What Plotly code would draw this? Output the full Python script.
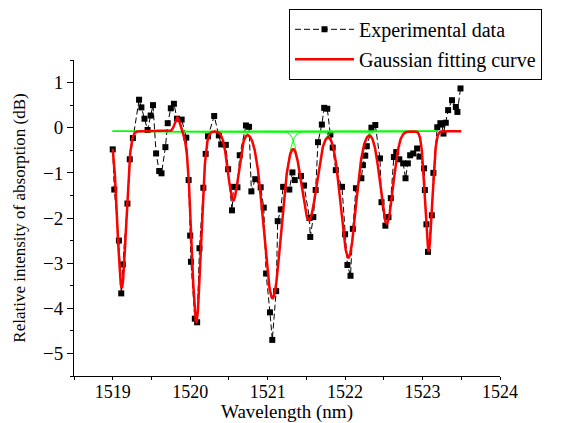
import numpy as np
import plotly.graph_objects as go

# Experimental data (wavelength in nm, relative intensity in dB)
wavelength = [
    1519.00, 1519.02, 1519.08, 1519.11, 1519.13, 1519.19, 1519.22, 1519.26, 1519.34, 1519.37,
    1519.41, 1519.45, 1519.49, 1519.52, 1519.56, 1519.60, 1519.63, 1519.68, 1519.71, 1519.75,
    1519.79, 1519.83, 1519.89, 1519.95, 1519.98, 1520.00, 1520.01, 1520.06, 1520.09, 1520.12,
    1520.17, 1520.20, 1520.23, 1520.31, 1520.37, 1520.40, 1520.46, 1520.49, 1520.54, 1520.56,
    1520.61, 1520.64, 1520.72, 1520.76, 1520.79, 1520.84, 1520.91, 1520.95, 1520.98, 1521.03,
    1521.06, 1521.11, 1521.13, 1521.17, 1521.20, 1521.28, 1521.32, 1521.35, 1521.43, 1521.47,
    1521.54, 1521.55, 1521.59, 1521.62, 1521.65, 1521.70, 1521.73, 1521.77, 1521.81, 1521.84,
    1521.88, 1521.96, 1522.00, 1522.03, 1522.07, 1522.10, 1522.14, 1522.21, 1522.23, 1522.26,
    1522.28, 1522.34, 1522.39, 1522.45, 1522.47, 1522.52, 1522.56, 1522.59, 1522.63, 1522.66,
    1522.70, 1522.75, 1522.78, 1522.81, 1522.84, 1522.88, 1522.93, 1522.96, 1523.02, 1523.03,
    1523.05, 1523.07, 1523.12, 1523.14, 1523.19, 1523.23, 1523.25, 1523.27, 1523.30, 1523.33,
    1523.38, 1523.43, 1523.45, 1523.49,
]
absorption = [
    -0.48, -1.37, -2.50, -3.67, -3.03, -1.68, -0.70, -0.23, 0.62, 0.45,
    0.20, -0.05, 0.27, 0.50, -0.57, -0.96, -1.01, -0.43, 0.10, 0.43,
    0.53, 0.20, 0.18, -0.22, -1.16, -2.39, -2.97, -4.23, -4.31, -2.67,
    -1.33, -0.58, -0.19, 0.26, -0.17, -0.37, -0.38, -0.92, -1.83, -1.31,
    -1.32, -0.61, 0.05, 0.02, -1.41, -1.14, -1.32, -1.77, -3.23, -4.09,
    -4.70, -3.62, -2.07, -1.81, -1.31, -1.37, -0.99, -1.16, -1.07, -1.28,
    -2.00, -2.42, -1.98, -1.38, -0.32, 0.07, 0.44, 0.42, -0.15, -0.44,
    -0.94, -1.31, -2.36, -3.04, -3.28, -2.24, -1.34, -1.12, -0.83, -0.62,
    -0.41, 0.00, 0.06, -0.68, -1.65, -2.17, -1.98, -1.56, -0.65, -0.54,
    -0.70, -0.79, -1.12, -0.79, -0.61, -0.57, -0.46, -0.64, -0.90, -1.38,
    -2.14, -2.75, -1.94, -1.00, 0.01, 0.10, 0.07, -0.13, 0.11, 0.39,
    0.61, 0.46, 0.35, 0.87,
]

# Gaussian fit parameters
baseline = -0.08
peak_centers = [1519.116, 1519.834, 1520.079, 1520.557, 1521.063, 1521.534, 1522.042, 1522.537, 1523.078]
peak_amplitudes = [-3.47, 0.31, -4.22, -1.53, -3.70, -1.97, -2.80, -2.04, -2.65]
peak_sigmas = [0.0554, 0.033, 0.0592, 0.0668, 0.110, 0.0954, 0.0954, 0.081, 0.0458]
fit_start, fit_end = 1519.0, 1523.5
comp_start, comp_end = 1519.0, 1523.2

x_ticks = [1519, 1520, 1521, 1522, 1523, 1524]
y_ticks = [1, 0, -1, -2, -3, -4, -5]


def gauss(x, c, a, s):
    return a * np.exp(-((x - c) ** 2) / (2 * s ** 2))


FONT = "Liberation Serif"
fig = go.Figure()

fig.add_trace(go.Scatter(
    x=wavelength, y=absorption, mode="lines+markers",
    name="Experimental data",
    line=dict(color="black", width=1, dash="6px,3px"),
    marker=dict(symbol="square", size=6, color="black"),
    legendgroup="a",
))

xc = np.linspace(comp_start, comp_end, 1500)
for c, a, s in zip(peak_centers, peak_amplitudes, peak_sigmas):
    fig.add_trace(go.Scatter(
        x=xc, y=baseline + gauss(xc, c, a, s), mode="lines",
        line=dict(color="#00ff00", width=1), showlegend=False, hoverinfo="skip",
    ))

xf = np.linspace(fit_start, fit_end, 2000)
yf = np.full_like(xf, baseline)
for c, a, s in zip(peak_centers, peak_amplitudes, peak_sigmas):
    yf = yf + gauss(xf, c, a, s)
fig.add_trace(go.Scatter(
    x=xf, y=yf, mode="lines", name="Gaussian fitting curve",
    line=dict(color="#ff0000", width=2.5), legendgroup="b",
))

axis_common = dict(
    showline=True, linecolor="black", linewidth=1, showgrid=False, zeroline=False,
    ticks="outside", tickcolor="black", tickwidth=1,
    mirror=False,
)

fig.update_xaxes(
    **axis_common, ticklen=3, range=[1518.5, 1524], tickmode="array", tickvals=x_ticks,
    ticktext=[str(v) for v in x_ticks], ticklabelstandoff=-4,
    tickfont=dict(family=FONT, size=18, color="black"),
    minor=dict(dtick=0.5, tick0=1518.5, ticks="outside", ticklen=3, tickcolor="black"),
    title=dict(text="Wavelength (nm)", font=dict(family=FONT, size=19, color="black"), standoff=4),
)
fig.update_yaxes(
    **axis_common, ticklen=6, range=[-5.5, 1.5], tickmode="array", tickvals=y_ticks,
    tickfont=dict(family=FONT, size=19, color="black"),
    minor=dict(dtick=0.5, tick0=0, ticks="outside", ticklen=3, tickcolor="black"),
    title=dict(text="Relative intensity of absorption (dB)", font=dict(family=FONT, size=17, color="black"), standoff=13),
)

fig.update_layout(
    width=562, height=423,
    margin=dict(l=74, r=62, t=60, b=47, autoexpand=False),
    paper_bgcolor="white", plot_bgcolor="white",
    showlegend=True,
    legend=dict(
        x=0.5047, y=1.162, xanchor="left", yanchor="top",
        bgcolor="white", bordercolor="black", borderwidth=1,
        font=dict(family=FONT, size=20, color="black"),
        traceorder="grouped", tracegroupgap=1, itemwidth=59,
        entrywidth=290, entrywidthmode="pixels",
    ),
    font=dict(family=FONT, color="black"),
)

fig.write_html("out.html", config={"displayModeBar": False},
               post_script="document.body.style.margin='0px';")
